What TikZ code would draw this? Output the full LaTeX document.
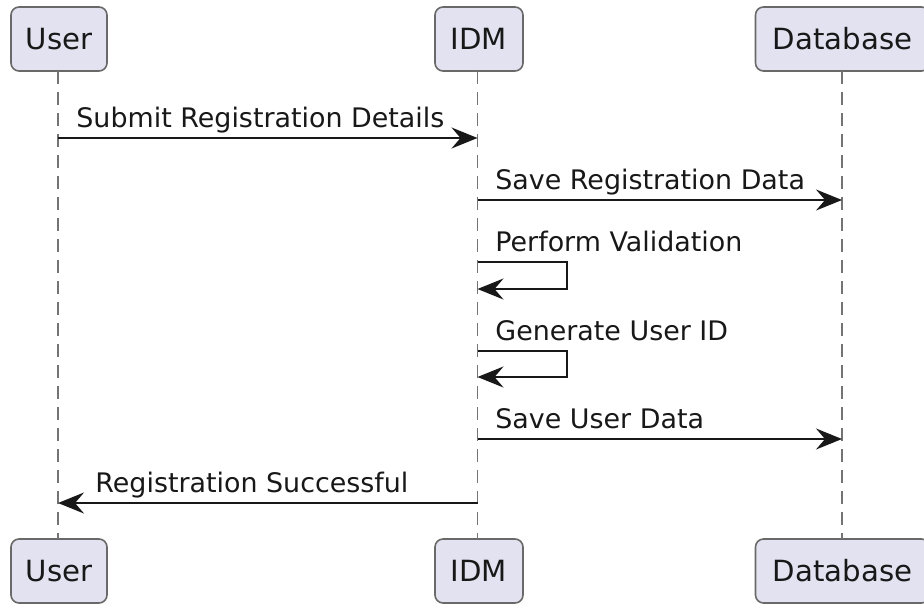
\documentclass[tikz,border=0pt]{standalone}
\usepackage{fontspec}
\setmainfont{DejaVu Sans}
\usetikzlibrary{arrows.meta}
\definecolor{partfill}{HTML}{E2E2F0}
\definecolor{inkline}{HTML}{181818}
\newcommand{\partfont}{\fontsize{14.6pt}{17pt}\selectfont}
\newcommand{\msgfont}{\fontsize{13.45pt}{16pt}\selectfont}
\begin{document}
\begin{tikzpicture}[x=0.5pt,y=-0.5pt,
  participant/.style={draw=inkline!65, fill=partfill, rounded corners=4pt,
    line width=0.8pt, minimum height=32pt, inner sep=0pt, font=\partfont,
    text=inkline},
  lifeline/.style={draw=inkline!60, line width=0.8pt, dash pattern=on 6.5pt off 4pt},
  msg/.style={draw=inkline, line width=1pt,
    -{Stealth[length=13pt,width=10.5pt,inset=4.5pt]}},
  msglabel/.style={font=\msgfont, inner sep=0pt, anchor=base west, text=inkline}]
  \useasboundingbox (0,0) rectangle (924,605);

  % participants, top and bottom
  \node[participant, minimum width=48pt]  (usertop) at (59,39)  {User};
  \node[participant, minimum width=44pt]  (idmtop)  at (479,39) {IDM};
  \node[participant, minimum width=87pt]  (dbtop)   at (842.5,39) {Database};
  \node[participant, minimum width=48pt]  (userbot) at (59,571)  {User};
  \node[participant, minimum width=44pt]  (idmbot)  at (479,571) {IDM};
  \node[participant, minimum width=87pt]  (dbbot)   at (842.5,571) {Database};

  % lifelines
  \coordinate (uA) at (58,71);   \coordinate (uB) at (58,539);
  \coordinate (iA) at (477.5,71); \coordinate (iB) at (477.5,539);
  \coordinate (dA) at (842,71);  \coordinate (dB) at (842,539);
  \draw[lifeline] (uA) -- (uB);
  \draw[lifeline] (iA) -- (iB);
  \draw[lifeline] (dA) -- (dB);

  % message anchor points on the lifelines
  \coordinate (u1) at (58,138);   \coordinate (i1) at (477.5,138);
  \coordinate (i2) at (477.5,200); \coordinate (d2) at (842,200);
  \coordinate (i3a) at (477.5,262); \coordinate (i3b) at (477.5,289);
  \coordinate (i3c) at (567,262);
  \coordinate (i4a) at (477.5,351); \coordinate (i4b) at (477.5,377);
  \coordinate (i4c) at (567,351);
  \coordinate (i5) at (477.5,439); \coordinate (d5) at (842,439);
  \coordinate (i6) at (477.5,503); \coordinate (u6) at (58,503);

  % messages
  \draw[msg] (u1) -- (i1);
  \node[msglabel] (m1) at (76,127) {Submit Registration Details};

  \draw[msg] (i2) -- (d2);
  \node[msglabel] (m2) at (495,189) {Save Registration Data};

  \draw[msg] (i3a) -- (i3c) |- (i3b);
  \node[msglabel] (m3) at (495,251) {Perform Validation};

  \draw[msg] (i4a) -- (i4c) |- (i4b);
  \node[msglabel] (m4) at (495,340) {Generate User ID};

  \draw[msg] (i5) -- (d5);
  \node[msglabel] (m5) at (495,428) {Save User Data};

  \draw[msg] (i6) -- (u6);
  \node[msglabel] (m6) at (95,492) {Registration Successful};
\end{tikzpicture}
\end{document}
